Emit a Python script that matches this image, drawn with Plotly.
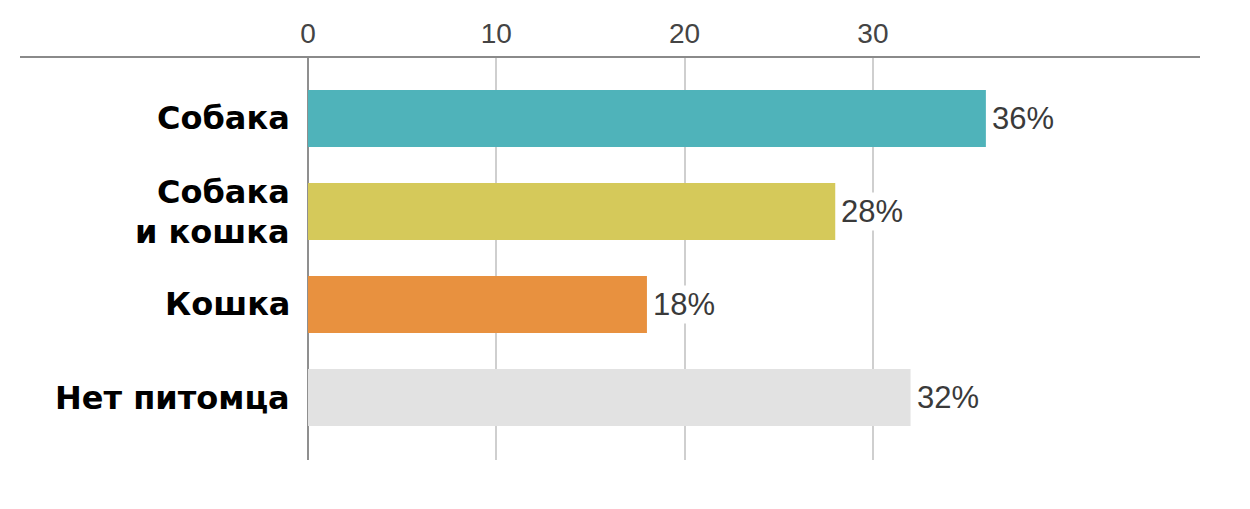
import plotly.graph_objects as go

categories = ["Собака", "Собака<br>и кошка", "Кошка", "Нет питомца"]
values = [36, 28, 18, 32]
value_labels = ["36%", "28%", "18%", "32%"]
bar_colors = ["#4fb3ba", "#d5c95a", "#e8913f", "#e2e2e2"]
tick_values = [0, 10, 20, 30]
tick_labels = ["0", "10", "20", "30"]

W, H = 1250, 509
ML, MR, MT, MB = 308, 50, 57, 49
plot_w = W - ML - MR
px_per_unit = 18.83

fig = go.Figure()
fig.add_trace(go.Bar(
    x=values,
    y=categories,
    orientation="h",
    marker=dict(color=bar_colors, line=dict(width=0)),
    width=0.613,
    hoverinfo="skip",
))

annotations = []
cat_font = dict(family="DejaVu Sans", size=32, color="#000000", weight="bold")
for cat in categories:
    lines = cat.split("<br>")
    if len(lines) == 1:
        annotations.append(dict(
            x=0, xref="paper", y=cat, yref="y",
            text=lines[0], showarrow=False, xanchor="right", yanchor="middle",
            xshift=-17, borderpad=0, font=cat_font,
        ))
    else:
        # two lines stacked tightly: upper sits on the centre, lower hangs from it
        annotations.append(dict(
            x=0, xref="paper", y=cat, yref="y",
            text=lines[0], showarrow=False, xanchor="right", yanchor="bottom",
            xshift=-17, yshift=-1, borderpad=0, font=cat_font,
        ))
        annotations.append(dict(
            x=0, xref="paper", y=cat, yref="y",
            text=lines[1], showarrow=False, xanchor="right", yanchor="top",
            xshift=-17, yshift=-1, borderpad=0, font=cat_font,
        ))
# value labels
for cat, v, lab in zip(categories, values, value_labels):
    annotations.append(dict(
        x=v, xref="x", y=cat, yref="y",
        text=lab, showarrow=False, xanchor="left", yanchor="middle",
        xshift=4, bgcolor="#ffffff", borderpad=1,
        font=dict(family="Liberation Sans", size=31, color="#3a3a3a"),
    ))

fig.update_layout(
    width=W, height=H,
    margin=dict(l=ML, r=MR, t=MT, b=MB),
    paper_bgcolor="#ffffff",
    plot_bgcolor="#ffffff",
    showlegend=False,
    annotations=annotations,
    shapes=[dict(
        type="line", xref="paper", yref="paper",
        x0=(20 - ML) / plot_w, x1=1.0, y0=1, y1=1,
        line=dict(color="#8a8a8a", width=2),
    )],
    xaxis=dict(
        side="top",
        range=[0, plot_w / px_per_unit],
        tickmode="array", tickvals=tick_values, ticktext=tick_labels,
        showgrid=True, gridcolor="#cfcfcf", gridwidth=1.5,
        zeroline=True, zerolinecolor="#8f8f8f", zerolinewidth=2,
        showline=False, ticks="",
        ticklabelstandoff=7,
        tickfont=dict(family="Liberation Sans", size=28, color="#444444"),
        fixedrange=True,
    ),
    yaxis=dict(
        categoryorder="array", categoryarray=categories,
        range=[3.672, -0.661],
        showticklabels=False, showgrid=False, zeroline=False, showline=False,
        ticks="", fixedrange=True,
    ),
)

fig.write_html("out.html")
